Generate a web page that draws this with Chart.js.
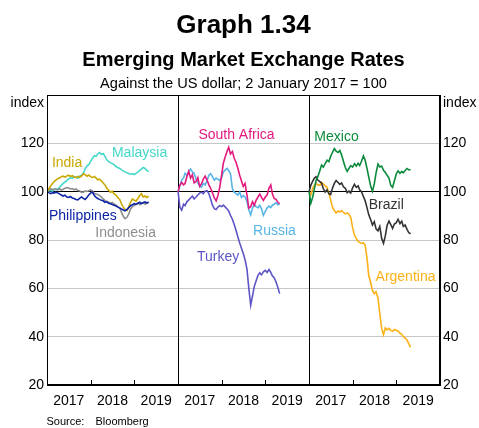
<!DOCTYPE html>
<html>
<head>
<meta charset="utf-8">
<script src="https://cdn.jsdelivr.net/npm/chart.js@4.4.1/dist/chart.umd.min.js"></script>
<style>
  html, body { margin: 0; padding: 0; background: #fff; }
  canvas { display: block; }
</style>
</head>
<body>
<canvas id="c" width="479" height="428"></canvas>
<script>
// ---------- DATA ----------
const dates = [
  '2017-01-02','2017-01-16','2017-02-01','2017-02-16','2017-03-01','2017-03-16','2017-04-01','2017-04-16',
  '2017-05-01','2017-05-16','2017-06-01','2017-06-16','2017-07-01','2017-07-16','2017-08-01','2017-08-16',
  '2017-09-01','2017-09-16','2017-10-01','2017-10-16','2017-11-01','2017-11-16','2017-12-01','2017-12-16',
  '2018-01-01','2018-01-16','2018-02-01','2018-02-16','2018-03-01','2018-03-16','2018-04-01','2018-04-16',
  '2018-05-01','2018-05-16','2018-06-01','2018-06-16','2018-07-01','2018-07-16','2018-08-01','2018-08-16',
  '2018-09-01','2018-09-16','2018-10-01','2018-10-16','2018-11-01','2018-11-16','2018-12-01','2018-12-16',
  '2019-01-01','2019-01-16','2019-02-01','2019-02-16','2019-03-01','2019-03-16','2019-04-01','2019-04-16',
  '2019-05-01'
];

const malaysia = [
  100, 100.3, 100.6, 100.2, 100.8, 101.3, 101, 101.8,
  102.6, 103.4, 104, 104.6, 105.3, 105.8, 105.5, 106.2,
  106, 105.6, 106.4, 106.8, 107.6, 109.4, 110.6, 111.2,
  112.5, 113.8, 114.9, 114.6, 115.6, 116.2, 115.4, 115.8,
  114.6, 113.2, 112.4, 112, 111.6, 111.2, 110.4, 110,
  109.6, 109, 108.6, 108.2, 107.8, 107.5, 107.2, 107.4,
  107.1, 107.6, 108.2, 108.8, 109.3, 110, 109.6, 108.8,
  108.3
];
const india = [
  100, 101.2, 102.4, 103.4, 104.2, 104.8, 105.4, 105.6,
  106.2, 106.4, 106, 106.5, 106.8, 106.3, 106.6, 106.1,
  105.8, 106.3, 105.9, 106.4, 107.4, 107, 106.4, 106.9,
  106.2, 105.8, 106.3, 105.6, 104.9, 105.2, 104.4, 103.6,
  102.8, 101.4, 100.6, 99.8, 100.2, 99.1, 98.6, 97.6,
  96.8, 95, 93.6, 92.6, 92.2, 93.8, 95.6, 97,
  96.4, 96.1, 97.2, 98.4, 99.2, 97.8, 98.2, 97.6,
  98.2
];
const indonesia = [
  100, 100.6, 101.2, 100.8, 101.1, 100.9, 100.7, 101.2,
  100.7, 101, 101.4, 101.7, 101.5, 101.1, 101.3, 100.8,
  101.1, 100.5, 100.4, 99.7, 99.8, 100.3, 100.1, 100.4,
  100.7, 100.2, 99.2, 99, 98.8, 98.4, 97.8, 97,
  96.4, 96, 95.6, 95.2, 95.5, 94.9, 94.4, 93.8,
  93.4, 91.4, 89.8, 88.8, 89.4, 90.8, 92.8, 93.8,
  94.2, 94.8, 95.4, 94.6, 95.1, 95.5, 94.8, 95.3,
  95.6
];
const philippines = [
  100, 99.6, 99.2, 99.6, 99.4, 99.8, 99.5, 99.1,
  98.6, 98.2, 98.5, 97.8, 97.6, 98, 97.4, 97.2,
  96.8, 96.6, 97.2, 97.8, 97.2, 96.8, 97.6, 98.6,
  99.4, 99.8, 98.4, 97.6, 97.2, 96.8, 96.4, 96.2,
  95.6, 95.8, 95.2, 95, 94.7, 94.4, 94.1, 93.6,
  93.2, 92.8, 92.4, 92.1, 92.6, 93.4, 94.2, 94.6,
  95, 94.7, 95.2, 95.6, 95.1, 95.4, 95.8, 95.3,
  95.6
];
const southAfrica = [
  100, 102.6, 103.8, 102.8, 103.4, 106.2, 108.4, 105.6,
  107, 103.6, 104.2, 105.8, 102.2, 103.2, 105.2, 106.4,
  104.8, 102.8, 101.4, 99.6, 97.4, 96.2, 98.4, 101.8,
  106.8, 112, 114.6, 116.8, 118.4, 115.6, 116.6, 113.8,
  112.2, 109.8, 106.8, 104.4, 102.2, 103.4, 98.6, 93.2,
  93.8, 95.8, 94.4, 96.4, 97.8, 99, 97.6, 96.4,
  97.8, 98.6, 101.4, 102.8, 99.2, 97.2, 96.8, 95.6,
  95
];
const russia = [
  100, 102.4, 104.8, 105.6, 107.6, 106.8, 108.4, 109.4,
  108.2, 107.6, 105.2, 103.6, 102.4, 101.8, 103.4, 102.8,
  104.6, 106.8, 107.4, 106.2, 104.8, 105.6, 105.2, 104.6,
  105.8, 108.2, 109, 109.6, 108.8, 107.4, 101.2, 99.8,
  99.2, 98.6, 99.8, 97.6, 98.4, 97.8, 95.8, 92.6,
  90.4, 93.2, 94.6, 93.8, 93.4, 94.4, 92.8, 90.2,
  91.8, 93.2, 94, 93.4, 94.4, 94.8, 95.4, 94.6,
  95
];
const turkey = [
  100, 93.6, 92.4, 94.8, 94.2, 95.8, 96.6, 97.4,
  98.2, 97, 97.8, 98.6, 99.4, 99.8, 99.2, 100.2,
  100.4, 99.2, 97, 94.4, 93, 92.6, 93.6, 94.2,
  93.8, 94.4, 93.6, 92.8, 92, 90.2, 88.6, 86.4,
  84, 81.4, 78.8, 76.6, 74.4, 71.8, 68, 60.2,
  53, 56.8, 60.8, 63, 65.4, 66.4, 65.6, 66.8,
  67.4, 66.6, 67.8, 66.6, 65.2, 64.4, 62.6, 60.4,
  57.8
];
const mexico = [
  100, 95.2, 97.8, 101.4, 104.6, 106.2, 108.6, 111,
  110.2, 111.6, 113, 112.4, 114.6, 116.2, 117.8, 116.8,
  116.2, 117, 115.2, 112.6, 110, 108.4, 109.6, 110.8,
  110.2, 111.6, 110.6, 111.8, 110.8, 112.6, 114.8, 113,
  109.6, 106, 102.2, 100.2, 103.2, 107.8, 111.4, 110.2,
  110.6, 108.8, 108, 106.8, 105.6, 102.6, 101.8, 104.4,
  107.4, 108.6, 107.6, 108.4, 107.8, 108.8, 109.6, 109,
  109.2
];
const brazil = [
  100, 102.6, 104.4, 105.6, 106.2, 104.8, 104.2, 103.6,
  101.2, 99.8, 100.8, 99.2, 98.8, 101.4, 103.4, 104.6,
  103.8, 103, 103.6, 102, 101.4, 99.6, 100.2, 99.4,
  101.6, 103, 101.8, 102.4, 100.8, 100, 98, 96.2,
  93.4, 90.4, 88.4, 86.2, 87.6, 84.6, 83.8, 85.6,
  80.6, 78.6, 81.6, 86, 87.8, 86.4, 84.8, 86.6,
  87.2, 88.6, 86.8, 87.8, 85.6, 86.2, 84.4, 83,
  82.6
];
const argentina = [
  100, 98.6, 101.4, 102.8, 103.4, 102.8, 102.6, 103.8,
  103.2, 102.4, 101.8, 99.4, 96.6, 93.6, 92.2, 91.2,
  92, 91.6, 92.2, 91.4, 90.8, 91.2, 90.6, 89.4,
  85, 82, 80.6, 79.4, 79, 78.6, 78.8, 77.8,
  72.6, 65.2, 62.4, 59, 57.8, 58.6, 56, 49.6,
  43.4, 40.8, 43.6, 42.8, 43.4, 42.6, 42.2, 43,
  42.6, 42.4, 41.4, 41, 40, 39.4, 38.6, 37,
  35.6
];

const yearLabels = ['2017', '2018', '2019'];
const yTickValues = [20, 40, 60, 80, 100, 120, 140];

// panels: first listed series is drawn on top
const panelSeries = [
  [['Philippines', philippines], ['India', india], ['Indonesia', indonesia], ['Malaysia', malaysia]],
  [['South Africa', southAfrica], ['Russia', russia], ['Turkey', turkey]],
  [['Mexico', mexico], ['Brazil', brazil], ['Argentina', argentina]]
];

// ---------- STYLE ----------
const FONT = "'Liberation Sans', Arial, Helvetica, sans-serif";
const colors = {
  'Malaysia': '#45d8c9', 'India': '#c9a700', 'Indonesia': '#8e8e8e', 'Philippines': '#0c25a6',
  'South Africa': '#e3197f', 'Russia': '#56b5e6', 'Turkey': '#5d55c6',
  'Mexico': '#0b8a3c', 'Brazil': '#333333', 'Argentina': '#fbb117'
};
// label anchor positions (x in panel-years, y in index units)
const labelPos = {
  'Malaysia': [2.12, 115.9], 'India': [0.46, 111.8], 'Philippines': [0.82, 89.9], 'Indonesia': [1.80, 82.9],
  'South Africa': [4.34, 123.5], 'Russia': [5.21, 83.5], 'Turkey': [3.92, 73],
  'Mexico': [6.63, 122.7], 'Brazil': [7.77, 94.6], 'Argentina': [8.21, 64.7]
};

const base = Date.UTC(2017, 0, 1);
function yearFrac(s) {
  const p = s.split('-').map(Number);
  return (Date.UTC(p[0], p[1] - 1, p[2]) - base) / (365.25 * 86400000);
}
const tVals = dates.map(yearFrac);

const datasets = [];
panelSeries.forEach((list, pi) => {
  list.forEach(([name, vals]) => {
    datasets.push({
      label: name,
      data: vals.map((v, i) => ({ x: pi * 3 + tVals[i], y: v })),
      borderColor: colors[name],
      borderWidth: 1.6,
      pointRadius: 0,
      tension: 0,
      fill: false
    });
  });
});

const xTickValues = [0.5, 1.5, 2.5, 3.5, 4.5, 5.5, 6.5, 7.5, 8.5];

const decor = {
  id: 'decor',
  beforeDatasetsDraw(chart) {
    const { ctx, chartArea: a, scales: { x } } = chart;
    ctx.save();
    ctx.strokeStyle = '#000';
    ctx.lineWidth = 1;
    [3, 6].forEach(v => {
      const px = Math.round(x.getPixelForValue(v)) + 0.5;
      ctx.beginPath(); ctx.moveTo(px, a.top); ctx.lineTo(px, a.bottom); ctx.stroke();
    });
    [1, 2, 4, 5, 7, 8].forEach(v => {
      const px = Math.round(x.getPixelForValue(v)) + 0.5;
      ctx.beginPath(); ctx.moveTo(px, a.bottom); ctx.lineTo(px, a.bottom - 5); ctx.stroke();
    });
    ctx.restore();
  },
  afterDraw(chart) {
    const { ctx, chartArea: a, scales: { x, y } } = chart;
    ctx.save();
    ctx.strokeStyle = '#000';
    ctx.lineWidth = 1;
    ctx.strokeRect(Math.round(a.left) + 0.5, Math.round(a.top) + 0.5,
      Math.round(a.right) - Math.round(a.left) - 1, Math.round(a.bottom) - Math.round(a.top) - 1);
    ctx.font = '14px ' + FONT;
    ctx.textAlign = 'center';
    ctx.textBaseline = 'middle';
    Object.keys(labelPos).forEach(name => {
      ctx.fillStyle = colors[name];
      ctx.fillText(name, x.getPixelForValue(labelPos[name][0]), y.getPixelForValue(labelPos[name][1]));
    });
    const cx = (a.left + a.right) / 2;
    ctx.fillStyle = '#000';
    ctx.textBaseline = 'alphabetic';
    ctx.font = 'bold 26px ' + FONT;
    ctx.fillText('Graph 1.34', cx, 33);
    ctx.font = 'bold 20px ' + FONT;
    ctx.fillText('Emerging Market Exchange Rates', cx, 66);
    ctx.font = '14.6px ' + FONT;
    ctx.fillText('Against the US dollar; 2 January 2017 = 100', cx, 88);
    ctx.font = '14px ' + FONT;
    ctx.textAlign = 'right';
    ctx.fillText('index', a.left - 3, 107);
    ctx.textAlign = 'left';
    ctx.fillText('index', a.right + 3, 107);
    ctx.font = '11px ' + FONT;
    ctx.fillText('Source:', 46.5, 425);
    ctx.fillText('Bloomberg', 95.5, 425);
    ctx.restore();
  }
};

const tickFont = { family: FONT, size: 14 };

new Chart(document.getElementById('c'), {
  type: 'line',
  data: { datasets },
  options: {
    responsive: false,
    animation: false,
    devicePixelRatio: 1,
    layout: { padding: { top: 95, left: 0, right: 0, bottom: 0 } },
    plugins: { legend: { display: false }, tooltip: { enabled: false }, title: { display: false } },
    scales: {
      x: {
        type: 'linear', min: 0, max: 9,
        afterBuildTicks: s => { s.ticks = xTickValues.map(v => ({ value: v })); },
        afterFit: s => { s.height = 43; },
        ticks: {
          callback: v => yearLabels[Math.floor(v) % 3],
          font: tickFont, color: '#000', padding: 8, maxRotation: 0, autoSkip: false
        },
        grid: { display: false, drawTicks: false },
        border: { display: true, color: '#000' }
      },
      y: {
        position: 'left', min: 20, max: 140,
        afterBuildTicks: s => { s.ticks = yTickValues.map(v => ({ value: v })); },
        afterFit: s => { s.width = 47; },
        ticks: { callback: v => (v === 140 ? '' : String(v)), font: tickFont, color: '#000', padding: 3 },
        grid: {
          color: c => (c.tick && (c.tick.value === 100 || c.tick.value === 20 || c.tick.value === 140)) ? '#000' : '#c6c6c6',
          lineWidth: 1, drawTicks: false
        },
        border: { display: true, color: '#000' }
      },
      y2: {
        position: 'right', min: 20, max: 140,
        afterBuildTicks: s => { s.ticks = yTickValues.map(v => ({ value: v })); },
        afterFit: s => { s.width = 39; },
        ticks: { callback: v => (v === 140 ? '' : String(v)), font: tickFont, color: '#000', padding: 3 },
        grid: { display: false, drawTicks: false },
        border: { display: true, color: '#000' }
      }
    }
  },
  plugins: [decor]
});
</script>
</body>
</html>
